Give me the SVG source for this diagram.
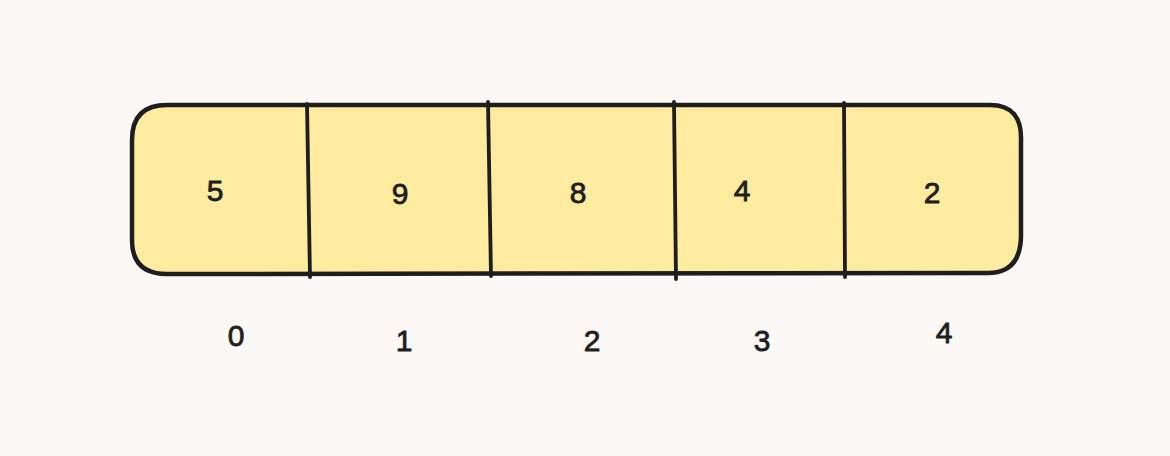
<svg xmlns="http://www.w3.org/2000/svg" width="1170" height="456" viewBox="0 0 1170 456">
<style>
.cell{fill:#fdeca0;stroke:none}
.edge{fill:none;stroke:#1e1e1e;stroke-width:4.5;stroke-linecap:round;stroke-linejoin:round}
.div{fill:none;stroke:#1e1e1e;stroke-width:3.8;stroke-linecap:round}
.val{font-family:"Liberation Sans",Arial,sans-serif;font-size:30px;fill:#1e1e1e;stroke:#1e1e1e;stroke-width:0.8;text-anchor:middle;dominant-baseline:central}
.idx{font-family:"Liberation Sans",Arial,sans-serif;font-size:30px;fill:#1e1e1e;stroke:#1e1e1e;stroke-width:0.8;text-anchor:middle;dominant-baseline:central}
</style>
<rect width="1170" height="456" fill="#fbf8f5"/>
<g id="array">
<rect class="cell" x="132" y="105" width="890" height="169" rx="32" ry="32"/>
<path class="edge" d="M167,105 L990,105 Q1022,105 1021,140 L1021,235 Q1021,273 988,273 L167,274 Q132,274 132,240 L132,140 Q132,105 167,105 Z"/>
</g>
<g id="connectors">
<path class="div" d="M307,104 L310,277"/>
<path class="div" d="M488,102 L491,276"/>
<path class="div" d="M674,102 L676,279"/>
<path class="div" d="M844,103 L845,277"/>
</g>
<g id="cell-0"><text class="val" x="215" y="190">5</text></g>
<g id="cell-1"><text class="val" x="400" y="193">9</text></g>
<g id="cell-2"><text class="val" x="578" y="192">8</text></g>
<g id="cell-3"><text class="val" x="742" y="190">4</text></g>
<g id="cell-4"><text class="val" x="932" y="192">2</text></g>
<g id="index-0"><text class="idx" x="236" y="335">0</text></g>
<g id="index-1"><text class="idx" x="404" y="340">1</text></g>
<g id="index-2"><text class="idx" x="592" y="340">2</text></g>
<g id="index-3"><text class="idx" x="762" y="340">3</text></g>
<g id="index-4"><text class="idx" x="944" y="332">4</text></g>
</svg>
